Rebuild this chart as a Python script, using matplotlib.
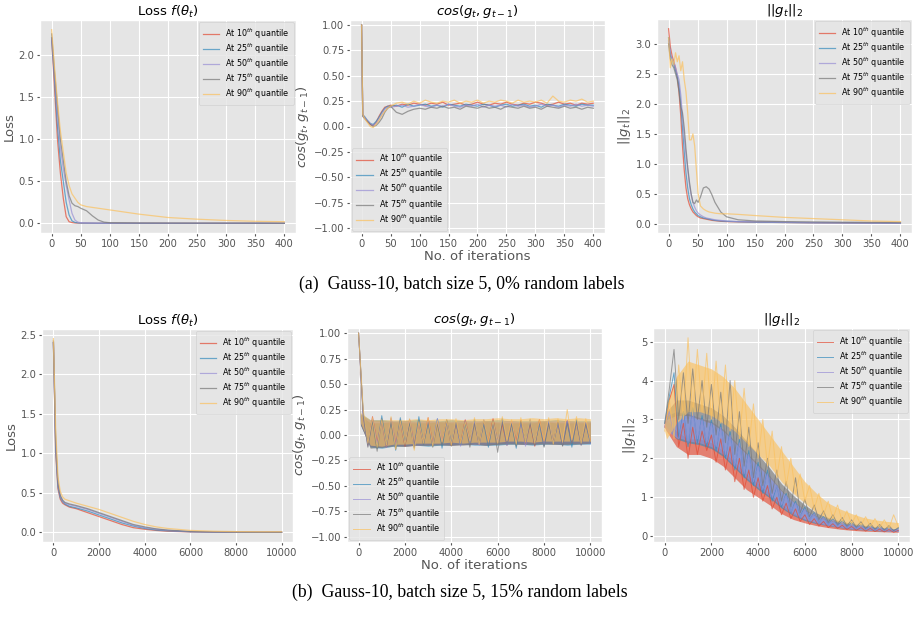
import matplotlib
matplotlib.use('Agg')
import matplotlib.pyplot as plt
from matplotlib.ticker import MultipleLocator

plt.style.use('ggplot')

labels = ['At 10$^{th}$ quantile', 'At 25$^{th}$ quantile', 'At 50$^{th}$ quantile',
          'At 75$^{th}$ quantile', 'At 90$^{th}$ quantile']
colors = ['#E24A33', '#348ABD', '#988ED5', '#777777', '#FBC15E']

# ---------- (a) 0% random labels, 400 iterations ----------
x_loss_a = [0, 5, 10, 15, 20, 25, 30, 35, 40, 45, 50, 60, 70, 80, 90, 100, 150, 200, 250, 300, 350, 400]
loss_a_10 = [2.2, 1.6, 1.0, 0.6, 0.3, 0.08, 0.02, 0.01, 0.005, 0.004, 0.003, 0.003, 0.002, 0.002, 0.002, 0.002, 0.001, 0.001, 0.001, 0.001, 0.001, 0.001]
loss_a_25 = [2.2, 1.7, 1.15, 0.75, 0.5, 0.25, 0.1, 0.03, 0.012, 0.006, 0.004, 0.003, 0.003, 0.002, 0.002, 0.002, 0.001, 0.001, 0.001, 0.001, 0.001, 0.001]
loss_a_50 = [2.2, 1.75, 1.3, 0.9, 0.65, 0.45, 0.28, 0.12, 0.04, 0.015, 0.008, 0.005, 0.004, 0.003, 0.003, 0.002, 0.002, 0.001, 0.001, 0.001, 0.001, 0.001]
loss_a_75 = [2.25, 1.8, 1.4, 1.0, 0.75, 0.5, 0.33, 0.24, 0.21, 0.2, 0.18, 0.15, 0.09, 0.04, 0.015, 0.008, 0.005, 0.004, 0.003, 0.003, 0.003, 0.002]
loss_a_90 = [2.3, 1.85, 1.45, 1.1, 0.85, 0.6, 0.45, 0.35, 0.3, 0.25, 0.22, 0.2, 0.19, 0.18, 0.17, 0.16, 0.11, 0.07, 0.05, 0.035, 0.025, 0.02]

x_cos_a = [0, 2, 5, 10, 15, 20, 25, 30, 35, 40, 45] + list(range(50, 401, 10))
cos_a_10 = [1.0, 0.12, 0.09, 0.05, 0.02, 0.01, 0.04, 0.10, 0.15, 0.19, 0.20,
            0.21, 0.20, 0.22, 0.21, 0.23, 0.22, 0.21, 0.23, 0.22, 0.24, 0.21, 0.22,
            0.23, 0.21, 0.22, 0.24, 0.22, 0.21, 0.23, 0.22, 0.24, 0.22, 0.21, 0.23,
            0.22, 0.24, 0.23, 0.21, 0.22, 0.24, 0.22, 0.23, 0.21, 0.23, 0.22, 0.23]
cos_a_25 = [1.0, 0.11, 0.10, 0.06, 0.03, 0.02, 0.05, 0.09, 0.14, 0.18, 0.20,
            0.20, 0.21, 0.19, 0.22, 0.20, 0.21, 0.22, 0.20, 0.21, 0.19, 0.22, 0.21,
            0.20, 0.22, 0.21, 0.20, 0.22, 0.21, 0.19, 0.21, 0.22, 0.20, 0.21, 0.22,
            0.20, 0.21, 0.19, 0.22, 0.21, 0.20, 0.22, 0.21, 0.20, 0.22, 0.21, 0.21]
cos_a_50 = [1.0, 0.10, 0.09, 0.06, 0.03, 0.01, 0.03, 0.07, 0.12, 0.17, 0.19,
            0.19, 0.20, 0.21, 0.19, 0.20, 0.22, 0.20, 0.19, 0.21, 0.20, 0.22, 0.20,
            0.19, 0.21, 0.20, 0.22, 0.19, 0.21, 0.20, 0.21, 0.19, 0.22, 0.20, 0.21,
            0.19, 0.20, 0.22, 0.20, 0.21, 0.19, 0.21, 0.20, 0.22, 0.20, 0.21, 0.20]
cos_a_75 = [1.0, 0.10, 0.08, 0.05, 0.02, 0.00, 0.01, 0.04, 0.08, 0.14, 0.18,
            0.20, 0.14, 0.12, 0.15, 0.17, 0.18, 0.17, 0.19, 0.18, 0.20, 0.18, 0.19,
            0.17, 0.20, 0.19, 0.18, 0.20, 0.18, 0.19, 0.17, 0.20, 0.19, 0.18, 0.20,
            0.18, 0.19, 0.17, 0.20, 0.19, 0.18, 0.20, 0.18, 0.19, 0.17, 0.19, 0.18]
cos_a_90 = [1.0, 0.12, 0.08, 0.04, 0.00, -0.01, 0.02, 0.06, 0.11, 0.15, 0.18,
            0.20, 0.23, 0.24, 0.22, 0.25, 0.23, 0.26, 0.24, 0.23, 0.25, 0.24, 0.26,
            0.23, 0.25, 0.24, 0.26, 0.23, 0.25, 0.24, 0.26, 0.25, 0.23, 0.26, 0.24,
            0.25, 0.24, 0.26, 0.23, 0.30, 0.25, 0.24, 0.26, 0.25, 0.27, 0.24, 0.25]

x_norm_a = [0, 3, 6, 9, 12, 15, 18, 21, 24, 27, 30, 33, 36, 39, 42, 45, 48, 51, 55,
            60, 65, 70, 75, 80, 90, 100, 120, 150, 200, 250, 300, 350, 400]
norm_a_10 = [3.25, 2.95, 2.8, 2.7, 2.6, 2.45, 2.2, 1.8, 1.3, 0.9, 0.6, 0.42, 0.32, 0.25, 0.2, 0.17, 0.14, 0.12, 0.1,
             0.09, 0.08, 0.07, 0.06, 0.055, 0.045, 0.04, 0.035, 0.03, 0.025, 0.02, 0.018, 0.015, 0.012]
norm_a_25 = [3.1, 2.8, 2.75, 2.65, 2.55, 2.45, 2.3, 2.0, 1.6, 1.2, 0.85, 0.6, 0.42, 0.32, 0.25, 0.2, 0.17, 0.14, 0.12,
             0.1, 0.09, 0.08, 0.07, 0.06, 0.05, 0.045, 0.038, 0.03, 0.025, 0.02, 0.018, 0.015, 0.013]
norm_a_50 = [3.05, 2.85, 2.75, 2.7, 2.6, 2.5, 2.4, 2.15, 1.8, 1.45, 1.15, 0.9, 0.65, 0.48, 0.36, 0.28, 0.22, 0.18, 0.15,
             0.12, 0.1, 0.09, 0.08, 0.07, 0.06, 0.05, 0.04, 0.035, 0.028, 0.022, 0.02, 0.017, 0.015]
norm_a_75 = [3.0, 2.75, 2.65, 2.6, 2.5, 2.4, 2.2, 1.95, 1.85, 1.6, 1.25, 0.95, 0.7, 0.5, 0.36, 0.34, 0.4, 0.36, 0.45,
             0.6, 0.62, 0.58, 0.48, 0.36, 0.2, 0.12, 0.07, 0.05, 0.04, 0.035, 0.03, 0.028, 0.025]
norm_a_90 = [3.1, 2.6, 2.75, 2.65, 2.85, 2.7, 2.8, 2.55, 2.7, 2.4, 2.2, 1.85, 1.4, 1.4, 1.5, 1.3, 0.9, 0.5, 0.3,
             0.25, 0.22, 0.2, 0.19, 0.18, 0.17, 0.17, 0.16, 0.14, 0.11, 0.09, 0.07, 0.05, 0.04]

# ---------- (b) 15% random labels, 10000 iterations ----------
x_loss_b = [0, 100, 200, 300, 400, 500, 700, 1000, 1500, 2000, 2500, 3000, 3500, 4000, 4500, 5000, 6000, 7000, 8000, 9000, 10000]
loss_b_10 = [2.4, 1.0, 0.55, 0.42, 0.37, 0.35, 0.32, 0.3, 0.25, 0.2, 0.15, 0.1, 0.06, 0.04, 0.025, 0.015, 0.006, 0.003, 0.002, 0.001, 0.001]
loss_b_25 = [2.4, 1.05, 0.58, 0.44, 0.39, 0.36, 0.33, 0.31, 0.27, 0.22, 0.17, 0.12, 0.08, 0.05, 0.03, 0.02, 0.008, 0.004, 0.002, 0.001, 0.001]
loss_b_50 = [2.4, 1.1, 0.6, 0.46, 0.4, 0.37, 0.35, 0.33, 0.29, 0.24, 0.19, 0.14, 0.09, 0.06, 0.04, 0.025, 0.01, 0.005, 0.003, 0.002, 0.001]
loss_b_75 = [2.42, 1.15, 0.62, 0.47, 0.41, 0.38, 0.36, 0.34, 0.3, 0.25, 0.2, 0.15, 0.1, 0.07, 0.045, 0.03, 0.012, 0.006, 0.004, 0.002, 0.002]
loss_b_90 = [2.45, 1.3, 0.7, 0.52, 0.45, 0.42, 0.4, 0.37, 0.33, 0.29, 0.24, 0.19, 0.14, 0.1, 0.07, 0.05, 0.025, 0.015, 0.01, 0.008, 0.008]

# noisy traces, sampled every 200 iterations
x_noisy_b = list(range(0, 10001, 200))
cos_b_10 = [1.0,
            0.20, -0.10, 0.18, -0.08, 0.14, -0.12, 0.16, -0.09, 0.13, -0.11,
            0.15, -0.10, 0.12, -0.08, 0.17, -0.09, 0.13, -0.07, 0.14, -0.10,
            0.12, -0.08, 0.15, -0.06, 0.13, -0.09, 0.12, -0.07, 0.16, -0.08,
            0.11, -0.10, 0.13, -0.06, 0.14, -0.09, 0.12, -0.11, 0.15, -0.08,
            0.13, -0.07, 0.12, -0.10, 0.14, -0.08, 0.13, -0.09, 0.12, -0.06]
cos_b_25 = [1.0,
            0.22, -0.09, 0.15, -0.13, 0.19, -0.10, 0.14, -0.15, 0.17, -0.08,
            0.13, -0.12, 0.18, -0.09, 0.12, -0.11, 0.16, -0.13, 0.14, -0.08,
            0.13, -0.10, 0.12, -0.07, 0.15, -0.09, 0.11, -0.12, 0.14, -0.08,
            0.16, -0.10, 0.12, -0.13, 0.13, -0.07, 0.15, -0.09, 0.11, -0.11,
            0.14, -0.08, 0.12, -0.10, 0.13, -0.12, 0.15, -0.09, 0.12, -0.08]
cos_b_50 = [1.0,
            0.18, -0.11, 0.16, -0.09, 0.14, -0.12, 0.17, -0.10, 0.13, -0.09,
            0.15, -0.11, 0.12, -0.08, 0.14, -0.10, 0.16, -0.07, 0.13, -0.09,
            0.12, -0.11, 0.14, -0.08, 0.13, -0.10, 0.15, -0.09, 0.12, -0.07,
            0.14, -0.10, 0.13, -0.08, 0.12, -0.11, 0.14, -0.09, 0.13, -0.10,
            0.15, -0.08, 0.12, -0.09, 0.14, -0.07, 0.13, -0.10, 0.12, -0.08]
cos_b_75 = [1.0,
            0.19, -0.12, 0.14, -0.16, 0.16, -0.11, 0.13, -0.14, 0.15, -0.10,
            0.12, -0.13, 0.14, -0.09, 0.13, -0.12, 0.11, -0.10, 0.15, -0.11,
            0.12, -0.09, 0.13, -0.12, 0.11, -0.08, 0.14, -0.10, 0.12, -0.17,
            0.13, -0.09, 0.11, -0.11, 0.14, -0.08, 0.12, -0.10, 0.13, -0.12,
            0.11, -0.09, 0.14, -0.11, 0.12, -0.08, 0.13, -0.10, 0.11, -0.07]
cos_b_90 = [1.0,
            0.25, -0.08, 0.17, -0.12, 0.15, -0.10, 0.18, -0.14, 0.14, -0.09,
            0.16, -0.15, 0.13, -0.08, 0.17, -0.11, 0.14, -0.07, 0.15, -0.10,
            0.16, -0.08, 0.13, -0.06, 0.17, -0.09, 0.15, -0.07, 0.14, -0.08,
            0.18, -0.06, 0.15, -0.09, 0.17, -0.07, 0.16, -0.08, 0.15, -0.06,
            0.17, -0.09, 0.16, -0.07, 0.25, -0.05, 0.18, -0.08, 0.16, -0.06]

norm_b_10 = [2.8, 3.5, 3.9, 2.3, 2.9, 2.0, 2.8, 2.1, 2.7, 2.2, 2.6, 1.9, 2.5, 1.7, 2.3, 1.4, 2.0,
             1.2, 1.7, 1.0, 1.5, 0.9, 1.3, 0.7, 1.0, 0.55, 0.85, 0.45, 0.7, 0.38, 0.55, 0.3, 0.45,
             0.26, 0.38, 0.22, 0.32, 0.2, 0.28, 0.17, 0.25, 0.15, 0.22, 0.13, 0.2, 0.12, 0.18, 0.11, 0.17, 0.1, 0.15]
norm_b_25 = [2.9, 3.6, 4.2, 2.5, 3.2, 2.3, 3.3, 2.4, 3.1, 2.3, 3.0, 2.2, 2.9, 2.0, 2.7, 1.7, 2.5,
             1.5, 2.2, 1.3, 1.9, 1.1, 1.7, 0.9, 1.3, 0.75, 1.1, 0.6, 0.9, 0.5, 0.75, 0.42, 0.6,
             0.35, 0.5, 0.3, 0.45, 0.26, 0.4, 0.22, 0.35, 0.2, 0.3, 0.18, 0.27, 0.16, 0.25, 0.15, 0.22, 0.13, 0.2]
norm_b_50 = [2.8, 3.2, 2.6, 2.5, 3.1, 2.4, 3.2, 2.5, 3.0, 2.4, 2.9, 2.3, 2.8, 2.1, 2.6, 1.8, 2.4,
             1.6, 2.1, 1.4, 1.8, 1.2, 1.6, 1.0, 1.3, 0.8, 1.05, 0.62, 0.85, 0.5, 0.7, 0.42, 0.58,
             0.35, 0.48, 0.3, 0.42, 0.25, 0.36, 0.22, 0.32, 0.2, 0.28, 0.18, 0.25, 0.16, 0.23, 0.15, 0.21, 0.13, 0.18]
norm_b_75 = [2.9, 3.8, 4.8, 3.0, 4.2, 2.9, 4.3, 3.0, 4.0, 2.8, 3.9, 2.6, 3.7, 2.4, 4.0, 2.1, 3.2,
             1.8, 2.8, 1.5, 2.4, 1.3, 2.0, 1.1, 1.7, 0.9, 1.4, 0.75, 1.5, 0.6, 0.95, 0.5, 0.8,
             0.42, 0.65, 0.35, 0.55, 0.3, 0.48, 0.26, 0.42, 0.23, 0.37, 0.2, 0.33, 0.18, 0.3, 0.16, 0.27, 0.14, 0.22]
norm_b_90 = [2.7, 3.5, 2.5, 4.4, 3.0, 5.1, 3.1, 4.8, 3.2, 4.7, 3.0, 4.5, 2.9, 4.4, 2.7, 4.0, 2.5,
             3.8, 2.3, 3.4, 2.0, 3.0, 1.8, 2.7, 1.5, 2.3, 1.3, 2.0, 1.1, 1.6, 0.9, 1.3, 0.7,
             1.1, 0.55, 0.9, 0.45, 0.8, 0.38, 0.65, 0.32, 0.55, 0.28, 0.5, 0.25, 0.45, 0.22, 0.42, 0.2, 0.55, 0.25]

# dense core of the noisy traces (lower / upper envelope), every 500 iterations
x_env_b = [0, 80] + list(range(500, 10001, 500))
cos_b_env = [
    ([1.0, 0.10, -0.11, -0.12, -0.10, -0.11, -0.10, -0.10, -0.09, -0.10, -0.09, -0.09, -0.10, -0.09, -0.08, -0.09, -0.09, -0.08, -0.09, -0.09, -0.08, -0.08],
     [1.0, 0.20, 0.14, 0.14, 0.13, 0.14, 0.13, 0.14, 0.13, 0.13, 0.14, 0.13, 0.14, 0.13, 0.14, 0.13, 0.13, 0.14, 0.13, 0.14, 0.13, 0.13]),
    ([1.0, 0.10, -0.12, -0.13, -0.11, -0.11, -0.10, -0.11, -0.10, -0.10, -0.09, -0.10, -0.10, -0.10, -0.09, -0.09, -0.10, -0.09, -0.09, -0.10, -0.09, -0.09],
     [1.0, 0.21, 0.15, 0.15, 0.14, 0.14, 0.15, 0.14, 0.14, 0.15, 0.14, 0.14, 0.14, 0.15, 0.14, 0.14, 0.14, 0.14, 0.15, 0.14, 0.14, 0.14]),
    ([1.0, 0.11, -0.11, -0.11, -0.10, -0.10, -0.10, -0.09, -0.09, -0.09, -0.09, -0.09, -0.09, -0.08, -0.08, -0.08, -0.08, -0.08, -0.08, -0.08, -0.08, -0.08],
     [1.0, 0.19, 0.14, 0.13, 0.14, 0.13, 0.13, 0.14, 0.13, 0.13, 0.13, 0.14, 0.13, 0.13, 0.14, 0.13, 0.13, 0.13, 0.14, 0.13, 0.13, 0.13]),
    ([1.0, 0.10, -0.13, -0.12, -0.11, -0.11, -0.10, -0.10, -0.10, -0.10, -0.10, -0.09, -0.10, -0.09, -0.09, -0.09, -0.09, -0.09, -0.09, -0.09, -0.09, -0.08],
     [1.0, 0.19, 0.12, 0.12, 0.13, 0.12, 0.12, 0.12, 0.13, 0.12, 0.12, 0.12, 0.13, 0.12, 0.12, 0.12, 0.12, 0.13, 0.12, 0.12, 0.12, 0.12]),
    ([1.0, 0.12, -0.10, -0.11, -0.09, -0.09, -0.08, -0.08, -0.08, -0.07, -0.08, -0.07, -0.07, -0.07, -0.06, -0.06, -0.07, -0.06, -0.06, -0.06, -0.06, -0.06],
     [1.0, 0.22, 0.15, 0.15, 0.15, 0.15, 0.16, 0.15, 0.16, 0.16, 0.15, 0.16, 0.16, 0.17, 0.16, 0.16, 0.17, 0.16, 0.17, 0.16, 0.17, 0.16]),
]
norm_b_env = [
    ([2.8, 2.7, 2.3, 2.1, 2.1, 2.0, 1.8, 1.5, 1.2, 1.0, 0.8, 0.58, 0.43, 0.34, 0.27, 0.22, 0.18, 0.15, 0.13, 0.12, 0.11, 0.1],
     [2.8, 3.0, 2.7, 2.5, 2.5, 2.4, 2.2, 1.9, 1.6, 1.35, 1.1, 0.82, 0.6, 0.45, 0.36, 0.29, 0.24, 0.2, 0.17, 0.15, 0.14, 0.13]),
    ([2.9, 2.8, 2.5, 2.4, 2.35, 2.25, 2.05, 1.75, 1.45, 1.2, 0.98, 0.72, 0.53, 0.4, 0.32, 0.27, 0.22, 0.18, 0.16, 0.14, 0.13, 0.12],
     [2.9, 3.1, 3.2, 3.1, 3.0, 2.9, 2.7, 2.4, 2.1, 1.8, 1.5, 1.15, 0.88, 0.66, 0.5, 0.4, 0.33, 0.28, 0.24, 0.21, 0.19, 0.17]),
    ([2.8, 2.7, 2.55, 2.45, 2.4, 2.3, 2.1, 1.8, 1.5, 1.25, 1.02, 0.76, 0.56, 0.43, 0.34, 0.28, 0.23, 0.19, 0.17, 0.15, 0.13, 0.12],
     [2.8, 3.0, 3.2, 3.15, 3.05, 2.95, 2.75, 2.45, 2.15, 1.85, 1.55, 1.18, 0.9, 0.68, 0.52, 0.41, 0.34, 0.29, 0.25, 0.22, 0.19, 0.17]),
    ([2.9, 3.0, 3.1, 3.1, 3.0, 2.9, 2.7, 2.4, 2.1, 1.8, 1.5, 1.15, 0.88, 0.66, 0.5, 0.4, 0.33, 0.28, 0.24, 0.21, 0.19, 0.17],
     [2.9, 3.2, 3.5, 3.5, 3.4, 3.3, 3.1, 2.8, 2.45, 2.1, 1.75, 1.35, 1.05, 0.8, 0.6, 0.48, 0.39, 0.33, 0.28, 0.24, 0.21, 0.19]),
    ([2.7, 2.5, 2.9, 3.2, 3.2, 3.1, 2.9, 2.7, 2.4, 2.1, 1.8, 1.4, 1.1, 0.85, 0.6, 0.45, 0.35, 0.3, 0.26, 0.23, 0.21, 0.2],
     [2.7, 3.4, 4.1, 4.5, 4.4, 4.3, 4.1, 3.8, 3.4, 3.0, 2.6, 2.2, 1.8, 1.4, 1.1, 0.85, 0.7, 0.58, 0.48, 0.42, 0.38, 0.35]),
]


def draw_panel(rect, x, series, title, ylabel, loc, xlabel=None, ylim=None,
               xstep=None, lw=0.9, bands=None, x_band=None, band_alpha=0.55):
    ax = fig.add_axes(rect)
    for y, c, lab in zip(series, colors, labels):
        ax.plot(x, y, color=c, lw=lw, alpha=0.7, label=lab)
    # the dense part of the noise goes over the spiky traces
    if bands is not None:
        for (lo, hi), c in zip(bands, colors):
            ax.fill_between(x_band, lo, hi, color=c, alpha=band_alpha, lw=0)
    ax.set_title(title, fontsize=9.5, pad=3)
    ax.set_ylabel(ylabel, fontsize=9.5, labelpad=2)
    if xlabel:
        ax.set_xlabel(xlabel, fontsize=9.5, labelpad=1)
    if ylim:
        ax.set_ylim(ylim)
    if xstep:
        ax.xaxis.set_major_locator(MultipleLocator(xstep))
    ax.tick_params(labelsize=7.2, length=2, pad=2)
    ax.legend(loc=loc, fontsize=5.8, handlelength=2.0, labelspacing=0.08,
              borderpad=0.5, borderaxespad=0.3)
    return ax


fig = plt.figure(figsize=(9.19, 6.33), dpi=100)
W, H = 919.0, 633.0


def rect(x0, y0, x1, y1):
    return [x0 / W, 1 - y1 / H, (x1 - x0) / W, (y1 - y0) / H]


cos_title = '$cos(g_t, g_{t-1})$'
norm_title = '$||g_t||_2$'

draw_panel(rect(40, 20, 296, 233), x_loss_a,
           [loss_a_10, loss_a_25, loss_a_50, loss_a_75, loss_a_90],
           r'Loss $f(\theta_t)$', 'Loss', 'upper right', xstep=50)
draw_panel(rect(350, 20, 605, 233), x_cos_a,
           [cos_a_10, cos_a_25, cos_a_50, cos_a_75, cos_a_90],
           cos_title, cos_title, 'lower left', xlabel='No. of iterations',
           ylim=(-1.05, 1.05), xstep=50)
draw_panel(rect(657, 19, 912, 233), x_norm_a,
           [norm_a_10, norm_a_25, norm_a_50, norm_a_75, norm_a_90],
           norm_title, norm_title, 'upper right', xstep=50)

draw_panel(rect(42, 329, 293, 542), x_loss_b,
           [loss_b_10, loss_b_25, loss_b_50, loss_b_75, loss_b_90],
           r'Loss $f(\theta_t)$', 'Loss', 'upper right')
draw_panel(rect(347, 328, 602, 542), x_noisy_b,
           [cos_b_10, cos_b_25, cos_b_50, cos_b_75, cos_b_90],
           cos_title, cos_title, 'lower left', xlabel='No. of iterations',
           ylim=(-1.05, 1.05), lw=0.7, bands=cos_b_env, x_band=x_env_b, band_alpha=0.6)
draw_panel(rect(653, 328, 910, 542), x_noisy_b,
           [norm_b_10, norm_b_25, norm_b_50, norm_b_75, norm_b_90],
           norm_title, norm_title, 'upper right', lw=0.7, bands=norm_b_env, x_band=x_env_b,
           band_alpha=0.65)

fig.text(462 / W, 1 - 284 / H, '(a)  Gauss-10, batch size 5, 0% random labels',
         ha='center', va='center', fontsize=12.8, family='Liberation Serif', color='black')
fig.text(460 / W, 1 - 592 / H, '(b)  Gauss-10, batch size 5, 15% random labels',
         ha='center', va='center', fontsize=12.8, family='Liberation Serif', color='black')

fig.savefig('out.png', dpi=100)
